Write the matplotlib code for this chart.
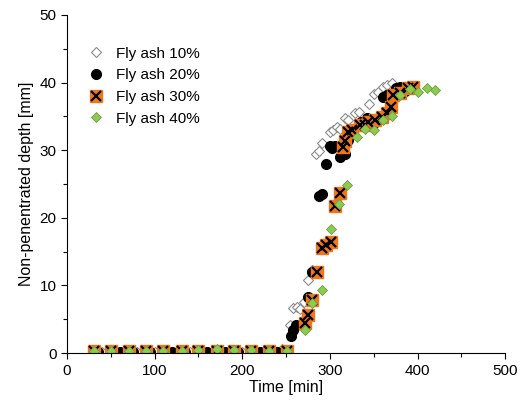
import matplotlib
matplotlib.use('Agg')
import matplotlib.pyplot as plt
from matplotlib.ticker import MultipleLocator
from matplotlib.legend_handler import HandlerTuple
import numpy as np

plt.rcParams['font.family'] = ['Liberation Sans', 'DejaVu Sans']

# Fly ash 10%
t10 = [40, 60, 80, 100, 120, 140, 160, 180, 200, 220, 235, 245,
       255, 258, 262, 266, 270, 275, 279, 284, 288, 291, 300, 304, 308, 312,
       317, 321, 329, 333, 345, 350, 355, 361, 365, 371]
d10 = [0.2, 0.2, 0.2, 0.2, 0.2, 0.2, 0.2, 0.2, 0.2, 0.2, 0.3, 0.6,
       4.1, 6.6, 6.8, 6.5, 7.6, 10.8, 12.3, 29.4, 29.9, 31.0, 32.7, 33.0, 33.5, 33.2,
       34.7, 34.5, 35.5, 35.7, 36.9, 38.3, 38.6, 39.3, 39.6, 39.9]

# Fly ash 20%
t20 = [35, 60, 75, 95, 120, 135, 160, 180, 195, 220, 240,
       256, 258, 261, 275, 279, 287, 291, 296, 300, 302, 306, 311, 317,
       321, 326, 336, 342, 350, 361, 365, 376, 380, 386]
d20 = [0.2, 0.2, 0.2, 0.2, 0.2, 0.2, 0.2, 0.2, 0.2, 0.2, 0.2,
       2.5, 3.4, 4.1, 8.3, 12.0, 23.3, 23.5, 27.9, 30.6, 30.4, 30.6, 29.0, 29.5,
       31.5, 33.0, 34.2, 34.7, 34.0, 37.9, 38.2, 39.2, 39.4, 38.8]

# Fly ash 30%
t30 = [31, 50, 71, 90, 110, 131, 150, 171, 190, 210, 230, 251,
       271, 275, 280, 285, 291, 296, 301, 306, 311, 315, 317, 321, 325,
       334, 340, 344, 351, 359, 365, 370, 372, 380, 389, 395]
d30 = [0.3, 0.3, 0.3, 0.3, 0.3, 0.3, 0.3, 0.3, 0.3, 0.3, 0.3, 0.3,
       4.4, 5.6, 7.8, 12.0, 15.6, 16.0, 16.4, 21.7, 23.7, 30.5, 31.3, 32.7, 33.0,
       33.7, 33.8, 34.2, 34.5, 34.9, 35.5, 36.4, 38.2, 38.4, 39.2, 39.3]

# Fly ash 40%
t40 = [31, 50, 71, 90, 110, 131, 150, 171, 190, 210, 230, 251,
       271, 280, 291, 301, 310, 320, 331, 340, 350, 361, 371, 380,
       391, 401, 411, 420]
d40 = [0.3, 0.3, 0.3, 0.3, 0.3, 0.3, 0.4, 0.6, 0.4, 0.5, 0.3, 0.3,
       3.4, 7.4, 9.3, 18.3, 22.0, 24.8, 31.9, 33.2, 33.0, 34.5, 35.0, 38.2,
       39.0, 38.6, 39.2, 38.9]

orange = '#F0761C'
green = '#8DCB4F'

fig = plt.figure(figsize=(5.24, 4.04), dpi=100)
ax = fig.add_axes([0.128, 0.126, 0.836, 0.837])

h10, = ax.plot(t10, d10, 'D', ms=5.5, mfc='white', mec='#8c8c8c', mew=0.8, ls='none')
h20, = ax.plot(t20, d20, 'o', ms=7, mfc='black', mec='black', ls='none')
h30a, = ax.plot(t30, d30, 's', ms=8, mfc=orange, mec=orange, ls='none')
h30b, = ax.plot(t30, d30, 'x', ms=6.5, mec='black', mew=1.6, ls='none')
h40, = ax.plot(t40, d40, 'D', ms=5.5, mfc=green, mec='#6f9a44', mew=0.6, ls='none')

ax.set_xlim(0, 500)
ax.set_ylim(0, 50)
ax.xaxis.set_major_locator(MultipleLocator(100))
ax.xaxis.set_minor_locator(MultipleLocator(50))
ax.yaxis.set_major_locator(MultipleLocator(10))
ax.yaxis.set_minor_locator(MultipleLocator(5))
ax.tick_params(which='both', direction='out', labelsize=11, length=4, width=0.8)
ax.tick_params(which='minor', length=3)
ax.spines['top'].set_visible(False)
ax.spines['right'].set_visible(False)

ax.set_xlabel('Time [min]', fontsize=11.5, labelpad=2)
ax.set_ylabel('Non-penentrated depth [mm]', fontsize=11.5, labelpad=4)

ax.legend([h10, h20, (h30a, h30b), h40],
          ['Fly ash 10%', 'Fly ash 20%', 'Fly ash 30%', 'Fly ash 40%'],
          handler_map={tuple: HandlerTuple(ndivide=1)},
          loc='upper left', bbox_to_anchor=(0.0, 0.96), frameon=False,
          fontsize=11, handlelength=1.4, handletextpad=0.6, labelspacing=0.5,
          borderaxespad=0.8)

fig.savefig('out.png', dpi=100)
